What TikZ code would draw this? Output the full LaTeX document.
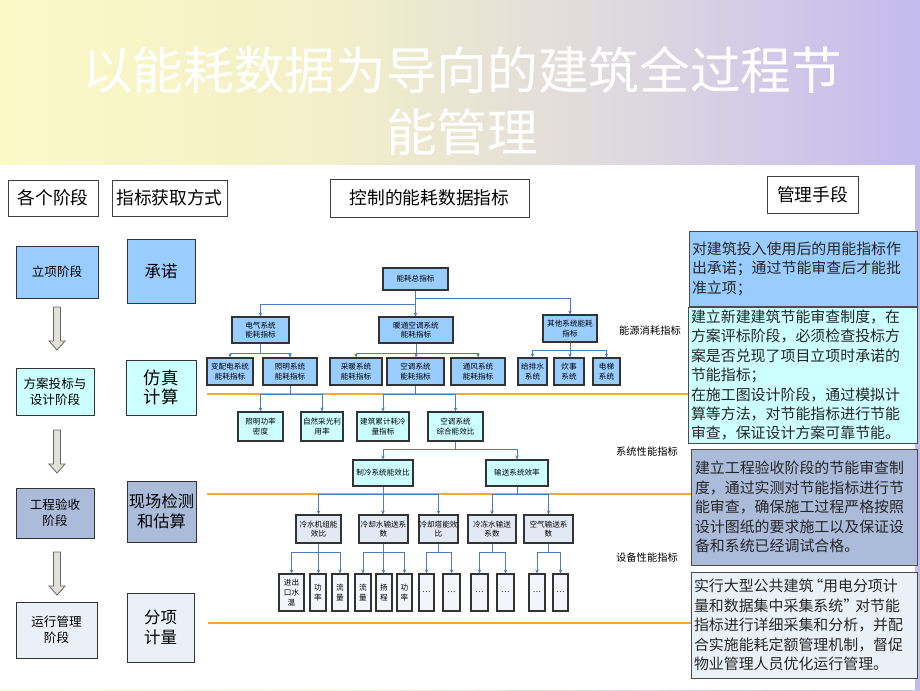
\documentclass[tikz,border=0pt]{standalone}
\usepackage{fontspec}
\setmainfont{Noto Sans CJK SC}
\usetikzlibrary{arrows.meta,calc,shadows}
\definecolor{cA}{HTML}{99CCFF}
\definecolor{cB}{HTML}{CCFFFF}
\definecolor{cC}{HTML}{AABCDA}
\definecolor{cD}{HTML}{EAF0F8}
\definecolor{cE}{HTML}{E2E9F4}
\definecolor{cF}{HTML}{F3F5FA}
\definecolor{cblue}{HTML}{4A7EBB}
\definecolor{oline}{HTML}{F7A833}
\definecolor{bgA}{HTML}{FBF9C6}
\definecolor{bgB}{HTML}{F3EFC9}
\definecolor{bgC}{HTML}{DCD7E0}
\definecolor{bgD}{HTML}{C3BAEE}
\definecolor{txt}{HTML}{262626}
\definecolor{harfill}{HTML}{E2E1D8}
\pgfdeclarehorizontalshading{titlebg}{100bp}{color(0bp)=(bgA); color(25bp)=(bgA); color(43bp)=(bgB); color(60bp)=(bgC); color(75bp)=(bgD); color(100bp)=(bgD)}
\newcommand{\bx}[7]{\node[#6,minimum width={(#4-#2)*0.75pt},minimum height={(#5-#3)*0.75pt}] (#1) at ({(#2+#4)/2},{(#3+#5)/2}) {#7};}
\tikzset{
  box/.style={draw=black!80, line width=0.75pt, inner sep=0pt, align=center,
    drop shadow={shadow xshift=0.6pt, shadow yshift=-0.6pt, opacity=0.35}},
  hdr/.style={draw=black!75, line width=0.75pt, inner sep=0pt, fill=white, font=\fontsize{13.3}{16}\selectfont},
  stg/.style={box, font=\fontsize{9.4}{12}\selectfont},
  mth/.style={box, font=\fontsize{12.3}{15}\selectfont},
  tb/.style={box, line width=0.8pt, font=\fontsize{5.7}{7.2}\selectfont},
  rtx/.style={draw=black!70, line width=0.75pt, inner sep=0pt, align=left, text=txt,
    font=\fontsize{11.2}{14.6}\selectfont},
  conn/.style={draw=cblue, line width=0.7pt, -{Stealth[length=3pt,width=2.6pt]}},
  orl/.style={draw=oline, line width=1pt},
  lvl/.style={font=\fontsize{7.7}{9}\selectfont, inner sep=0pt},
  harrow/.style={draw=black!60, fill=harfill, line width=0.6pt, line join=miter}
}
\newcommand{\harr}[3]{\draw[harrow] (#1-3.5,#2) -- (#1+3.5,#2) -- (#1+3.5,#3-9) -- (#1+8,#3-9) -- (#1,#3) -- (#1-8,#3-9) -- (#1-3.5,#3-9) -- cycle;}
\begin{document}
\begin{tikzpicture}[x=0.75pt,y=-0.75pt]
\useasboundingbox (0,0) rectangle (920,690);
\fill[shading=titlebg] (0,0) rectangle (920,690);
\fill[white] (0,165) rectangle (915,690);
\node[text=white, align=center, font=\fontsize{38}{47}\selectfont, inner sep=0pt] (title) at (462,101) {以能耗数据为导向的建筑全过程节\\能管理};
% headers
\bx{hd1}{8}{180}{98}{216}{hdr}{各个阶段}
\bx{hd2}{112}{180}{227}{216}{hdr}{指标获取方式}
\bx{hd3}{330}{179}{529}{217}{hdr}{控制的能耗数据指标}
\bx{hd4}{767}{176}{858}{213}{hdr}{管理手段}
% stages
\bx{s1}{16}{246}{98}{298}{stg,fill=cA}{立项阶段}
\bx{s2}{16}{368}{94}{415}{stg,fill=cB}{方案投标与\\设计阶段}
\bx{s3}{16}{488}{94}{538}{stg,fill=cC}{工程验收\\阶段}
\bx{s4}{16}{602}{97}{658}{stg,fill=cD}{运行管理\\阶段}
\harr{57}{307}{350}
\harr{57}{430}{473}
\harr{57}{552}{595}
% methods
\bx{m1}{127}{239}{195}{303}{mth,fill=cA}{承诺}
\bx{m2}{126}{360}{196}{415}{mth,fill=cB,font=\fontsize{13}{14.5}\selectfont}{仿真\\计算}
\bx{m3}{127}{481}{196}{542}{mth,fill=cC,font=\fontsize{12.2}{15}\selectfont}{现场检测\\和估算}
\bx{m4}{127}{593}{194}{662}{mth,fill=cD}{分项\\计量}
% right boxes
\bx{r1}{689}{231}{917}{306}{rtx,fill=cA,text width={(228-6)*0.75pt}}{对建筑投入使用后的用能指标作\\出承诺；通过节能审查后才能批\\准立项；}
\bx{r2}{688}{307}{917}{443}{rtx,fill=cB,text width={(229-6)*0.75pt}}{建立新建建筑节能审查制度，在\\方案评标阶段，必须检查投标方\\案是否兑现了项目立项时承诺的\\节能指标；\\在施工图设计阶段，通过模拟计\\算等方法，对节能指标进行节能\\审查，保证设计方案可靠节能。}
\bx{r3}{691}{449}{917}{565}{rtx,fill=cC,text width={(226-8)*0.75pt}}{建立工程验收阶段的节能审查制\\度，通过实测对节能指标进行节\\能审查，确保施工过程严格按照\\设计图纸的要求施工以及保证设\\备和系统已经调试合格。}
\bx{r4}{691}{572}{917}{678}{rtx,fill=cD,text width={(226-6)*0.75pt}}{实行大型公共建筑\kern-0.35em“用电分项计\\量和数据集中采集系统”\kern-0.2em 对节能\\指标进行详细采集和分析，并配\\合实施能耗定额管理机制，督促\\物业管理人员优化运行管理。}
% orange lines
\coordinate (o1) at (207,394);
\coordinate (o2) at (207,494);
\coordinate (o3) at (208,623);
\draw[orl] (o1) -- (o1 -| r2.west);
\draw[orl] (o2) -- (o2 -| r3.west);
\draw[orl] (o3) -- (o3 -| r4.west);
% level labels
\node[lvl] (L1) at (650,331) {能源消耗指标};
\node[lvl] (L2) at (647,452) {系统性能指标};
\node[lvl] (L3) at (647,558) {设备性能指标};
% tree
\bx{t0}{383}{268}{448}{290}{tb,fill=cA}{能耗总指标}
\bx{e1}{232}{317}{289}{343}{tb,fill=cA}{电气系统\\能耗指标}
\bx{e2}{379}{317}{453}{343}{tb,fill=cA}{暖通空调系统\\能耗指标}
\bx{e3}{543}{315}{597}{342}{tb,fill=cA}{其他系统能耗\\指标}
\bx{f1}{207}{358}{253}{385}{tb,fill=cA}{变配电系统\\能耗指标}
\bx{f2}{263}{358}{317}{385}{tb,fill=cA}{照明系统\\能耗指标}
\bx{f3}{330}{358}{382}{385}{tb,fill=cA}{采暖系统\\能耗指标}
\bx{f4}{387}{358}{444}{385}{tb,fill=cA}{空调系统\\能耗指标}
\bx{f5}{451}{358}{505}{385}{tb,fill=cA}{通风系统\\能耗指标}
\bx{f6}{518}{358}{547}{385}{tb,fill=cA}{给排水\\系统}
\bx{f7}{554}{358}{584}{385}{tb,fill=cA}{炊事\\系统}
\bx{f8}{593}{358}{620}{385}{tb,fill=cA}{电梯\\系统}
\bx{g1}{238}{412}{283}{441}{tb,fill=cB}{照明功率\\密度}
\bx{g2}{301}{412}{343}{441}{tb,fill=cB}{自然采光利\\用率}
\bx{g3}{357}{412}{409}{441}{tb,fill=cB}{建筑累计耗冷\\量指标}
\bx{g4}{428}{412}{483}{441}{tb,fill=cB}{空调系统\\综合能效比}
\bx{h1}{353}{460}{413}{486}{tb,fill=cB}{制冷系统能效比}
\bx{h2}{486}{460}{548}{486}{tb,fill=cB}{输送系统效率}
\bx{i1}{296}{515}{341}{543}{tb,fill=cE}{冷水机组能\\效比}
\bx{i2}{359}{515}{408}{543}{tb,fill=cE}{冷却水输送系\\数}
\bx{i3}{419}{515}{458}{543}{tb,fill=cE}{冷却塔能效\\比}
\bx{i4}{468}{515}{516}{543}{tb,fill=cE}{冷冻水输送\\系数}
\bx{i5}{524}{515}{573}{543}{tb,fill=cE}{空气输送系\\数}
\bx{j1}{279}{574}{304}{611}{tb,fill=cF}{进出\\口水\\温}
\bx{j2}{310}{574}{326}{611}{tb,fill=cF}{功\\率}
\bx{j3}{332}{574}{348}{611}{tb,fill=cF}{流\\量}
\bx{j4}{355}{574}{371}{611}{tb,fill=cF}{流\\量}
\bx{j5}{376}{574}{392}{611}{tb,fill=cF}{扬\\程}
\bx{j6}{397}{574}{412}{611}{tb,fill=cF}{功\\率}
\bx{j7}{419}{574}{434}{611}{tb,fill=cF}{…}
\bx{j8}{443}{574}{460}{611}{tb,fill=cF}{…}
\bx{j9}{471}{574}{488}{611}{tb,fill=cF}{…}
\bx{j10}{497}{574}{514}{611}{tb,fill=cF}{…}
\bx{j11}{529}{574}{545}{611}{tb,fill=cF}{…}
\bx{j12}{553}{574}{568}{611}{tb,fill=cF}{…}
% connectors
\draw[conn] (t0.south) -- ++(0,14) -| (e1.north);
\draw[conn] (t0.south) -- (t0.south |- e2.north);
\draw[conn] (t0.south) -- ++(0,8) -| (e3.north);
\foreach \c in {f1,f2} \draw[conn] (e1.south) -- ++(0,10) -| (\c.north);
\foreach \c in {f3,f5} \draw[conn] (e2.south) -- ++(0,10) -| (\c.north);
\draw[conn] (e2.south) -- (e2.south |- f4.north);
\foreach \c in {f6,f8} \draw[conn] (e3.south) -- ++(0,8) -| (\c.north);
\draw[conn] (e3.south) -- (e3.south |- f7.north);
\foreach \c in {g1,g2} \draw[conn] (f2.south) -- ++(0,9) -| (\c.north);
\foreach \c in {g3,g4} \draw[conn] (f4.south) -- ++(0,9) -| (\c.north);
\foreach \c in {h1,h2} \draw[conn] (g4.south) -- ++(0,8) -| (\c.north);
\foreach \c in {i1,i3} \draw[conn] (h1.south) -- ++(0,8) -| (\c.north);
\draw[conn] (h1.south) -- (h1.south |- i2.north);
\foreach \c in {i4,i5} \draw[conn] (h2.south) -- ++(0,8) -| (\c.north);
\foreach \c in {j1,j3} \draw[conn] (i1.south) -- ++(0,9) -| (\c.north);
\draw[conn] (i1.south) -- (i1.south |- j2.north);
\foreach \c in {j4,j6} \draw[conn] (i2.south) -- ++(0,9) -| (\c.north);
\draw[conn] (i2.south) -- (i2.south |- j5.north);
\foreach \c in {j7,j8} \draw[conn] (i3.south) -- ++(0,9) -| (\c.north);
\foreach \c in {j9,j10} \draw[conn] (i4.south) -- ++(0,9) -| (\c.north);
\foreach \c in {j11,j12} \draw[conn] (i5.south) -- ++(0,9) -| (\c.north);
\end{tikzpicture}
\end{document}
